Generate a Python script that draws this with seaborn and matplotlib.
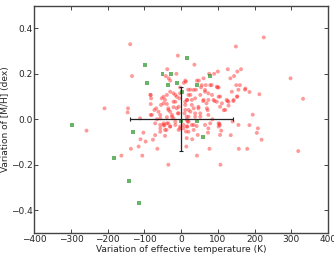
import numpy as np
import pandas as pd
import seaborn as sns
import matplotlib
matplotlib.use("Agg")
import matplotlib.pyplot as plt

# red points: (delta Teff [K], delta [M/H] [dex])
red_teff = [
    -258, -209, -163, -145, -146, -139, -134, -137, -116, -111, -106, -103, -97, -77,
    -71, -65, -57, -46, -44, -40, -35, 14, 15, 30, 43, 45, 13, 17, 42, 73, 77, 106,
    109, 107, 135, 157, 180, 186, 105, 206, 209, 219, 319, 332, 298, 225, 149, -9,
    36, 213, 195, 140, 104, 85, 72, 69, 60, 91, 106, 102, 116, 129, 126, 142, 153,
    174, 186, 150, 160, 175, 127, 163, 153, 100, 90, 76, 144, 134, 61, 11, 43, 48,
    67, 83, 99, 25, 40, 54,
    -38, -42, -34, -30, -13, 7, -3, 19,
    -83, -82, -68, -83, -66, -48, -53, -39, -30, -35, -21, -25, -21, -39, -48, -12,
    -7, -16, -5, -16, -57, -57, -30, 11, 11, 15, 6, -3, 15, -112,
    20, 38, 29, 52, 65, 61, 74, 84, 97, 106, 120, 129, 143, 152, 70, 47, 34, 25,
    52, 74, 20, 38, 156, 138, 20, 34, 65, 102, 156,
    -84, -83, -73, -55, -48, -44, -39, -35, -30, -25, -21, -16, -12, -21, -7, -9,
    -80, -57, -71, -48, -35, -30, -16, -3, -7, -44, -57, 11, 16, 9, 18, 6, -39,
    -62, -3,
    13, 25, 34, 16, 29, 20, 38, 47, 52, 15, 29, 34, 20, 79, 74, 65, 74, 102, 88,
    111, 124, 97, 79, 56, 102,
]
red_mh = [
    -0.05, 0.048, -0.16, 0.048, 0.03, 0.33, 0.19, -0.13, -0.12, -0.088, -0.16, -0.059,
    -0.098, -0.09, -0.07, -0.13, -0.04, -0.028, -0.073, -0.047, -0.2, -0.12, -0.083,
    -0.088, -0.16, -0.069, -0.054, -0.032, -0.03, -0.059, -0.13, -0.069, -0.05, -0.2,
    -0.07, -0.13, -0.13, -0.026, -0.026, -0.06, -0.04, -0.09, -0.14, 0.09, 0.18,
    0.36, 0.32, 0.28, 0.24, 0.11, 0.02, -0.01, -0.02, 0.0, 0.04, 0.07, 0.08, 0.08,
    0.10, 0.14, 0.04, 0.06, 0.08, 0.08, 0.10, 0.13, 0.12, 0.15, 0.15, 0.135, 0.22,
    0.22, 0.21, 0.21, 0.20, 0.20, 0.19, 0.18, 0.18, 0.17, 0.17, 0.17, 0.15, 0.15,
    0.14, 0.13, 0.13, 0.14,
    0.22, 0.19, 0.18, 0.17, 0.20, 0.16, 0.14, 0.13,
    0.107, 0.092, 0.048, 0.019, 0.0, 0.07, 0.092, 0.107, 0.121, 0.041, 0.077, 0.019,
    0.004, -0.018, -0.025, 0.048, 0.026, -0.025, 0.092, 0.107, 0.019, -0.025,
    -0.032, 0.077, 0.041, 0.011, -0.025, -0.04, -0.032, 0.004,
    0.107, 0.092, 0.085, 0.107, 0.121, 0.085, 0.085, 0.107, 0.077, 0.055, 0.041,
    0.077, 0.085, 0.099, 0.048, 0.055, 0.048, 0.033, 0.026, 0.019, 0.011, 0.011,
    0.13, 0.121, -0.01, -0.025, -0.025, -0.018, -0.025,
    0.107, 0.067, 0.041, 0.063, 0.099, 0.085, 0.067, 0.048, 0.033, 0.011, 0.053,
    0.077, 0.099, 0.114, 0.055, 0.026, 0.019, 0.004, -0.018, -0.018, -0.018,
    -0.032, -0.011, -0.032, -0.047, -0.047, -0.055, 0.063, 0.085, 0.026, -0.011,
    -0.04, 0.009, 0.033, 0.114,
    0.165, 0.107, 0.129, 0.085, 0.063, 0.041, 0.026, 0.048, 0.011, -0.003, -0.025,
    -0.047, -0.055, -0.018, -0.04, 0.129, 0.114, 0.099, 0.085, 0.07, 0.085, 0.143,
    0.15, 0.15, -0.032,
]

# green points
green_teff = [-297, -98, -92, -51, -37, 17, -28, -11, 79, 42, 2, 0, 44, -131, -182, -141, -115, 60]
green_mh = [-0.025, 0.24, 0.16, 0.20, 0.15, 0.27, 0.20, 0.16, 0.19, 0.15, 0.12, -0.01,
            -0.01, -0.057, -0.17, -0.27, -0.37, -0.08]

# typical uncertainty shown as a cross at the origin
err_teff = 140
err_mh = 0.14

sns.set_style("ticks")
plt.rcParams["font.family"] = ["DejaVu Sans"]
plt.rcParams["xtick.direction"] = "in"
plt.rcParams["ytick.direction"] = "in"

fig = plt.figure(figsize=(3.34, 2.54), dpi=100)
ax = fig.add_axes([0.103, 0.083, 0.879, 0.895])

red_df = pd.DataFrame({"teff": red_teff, "mh": red_mh})
green_df = pd.DataFrame({"teff": green_teff, "mh": green_mh})

sns.scatterplot(data=red_df, x="teff", y="mh", color="#ff2020", alpha=0.45, s=8,
                marker="o", edgecolor="none", ax=ax)
sns.scatterplot(data=green_df, x="teff", y="mh", color="#1a8c1a", alpha=0.65, s=8,
                marker="s", edgecolor="none", ax=ax)
ax.errorbar([0], [0], xerr=err_teff, yerr=err_mh, color="#222222", lw=0.9,
            capsize=1.5, capthick=0.8)

ax.set_xlim(-400, 400)
ax.set_ylim(-0.5, 0.5)
ax.set_xticks(np.arange(-400, 401, 100))
ax.set_yticks([-0.4, -0.2, 0.0, 0.2, 0.4])
ax.set_xlabel("Variation of effective temperature (K)", fontsize=6.5, labelpad=0.5)
ax.set_ylabel("Variation of [M/H] (dex)", fontsize=6.5, labelpad=0.5)
ax.tick_params(labelsize=6.5, top=True, right=True, length=3, width=0.6, pad=1.5)
for sp in ax.spines.values():
    sp.set_linewidth(1.0)
    sp.set_color("#444444")

fig.savefig("out.png", dpi=100)
